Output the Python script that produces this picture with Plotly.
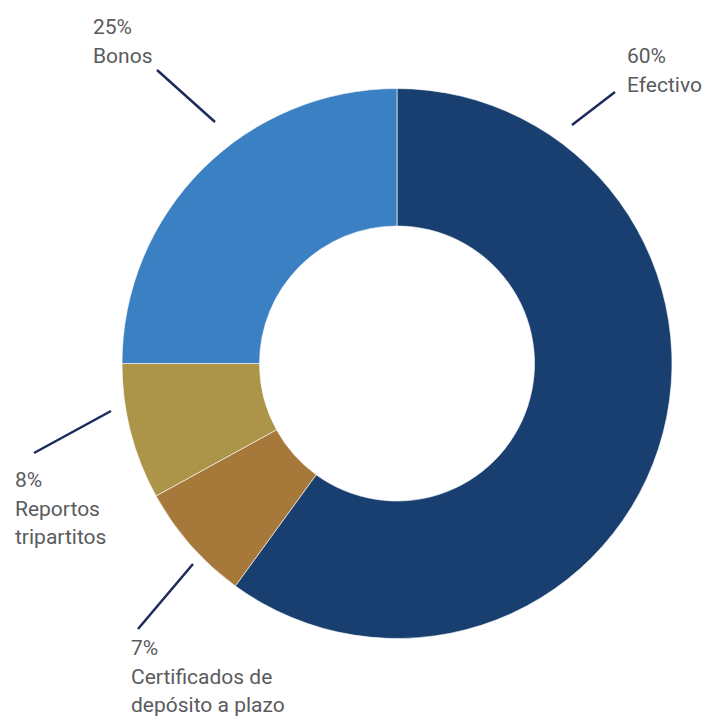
import plotly.graph_objects as go

# Portfolio composition
categories = ["Efectivo", "Certificados de depósito a plazo", "Reportos tripartitos", "Bonos"]
shares = [60, 7, 8, 25]
colors = ["#183f70", "#a67839", "#ac9449", "#3b80c3"]

# Label lines drawn beside each slice (one text row per entry)
label_rows = {
    "Efectivo": ["60%", "Efectivo"],
    "Certificados de depósito a plazo": ["7%", "Certificados de", "depósito a plazo"],
    "Reportos tripartitos": ["8%", "Reportos", "tripartitos"],
    "Bonos": ["25%", "Bonos"],
}

W, H = 704, 719


def px(x, y):
    return x / W, 1 - y / H


# label anchor (left x, first-row centre y) and leader line endpoints, in pixels
label_pos = {
    "Efectivo": (625, 56, (615, 92), (572, 125)),
    "Certificados de depósito a plazo": (129, 648, (193, 564), (138, 629)),
    "Reportos tripartitos": (13, 480, (111, 411), (34, 453)),
    "Bonos": (91, 27, (157, 70), (215, 122)),
}
row_gap = 28.5

cx, cy, r = 397, 363.5, 275

fig = go.Figure(
    go.Pie(
        labels=categories,
        values=shares,
        hole=0.5,
        sort=False,
        direction="clockwise",
        rotation=0,
        marker=dict(colors=colors, line=dict(color="rgba(255,255,255,0.6)", width=1)),
        textinfo="none",
        hoverinfo="label+percent",
        domain=dict(x=[(cx - r) / W, (cx + r) / W], y=[1 - (cy + r) / H, 1 - (cy - r) / H]),
    )
)

annotations = []
shapes = []
for cat in categories:
    lx, ly, p0, p1 = label_pos[cat]
    for i, row in enumerate(label_rows[cat]):
        ax_, ay_ = px(lx, ly + i * row_gap)
        annotations.append(
            dict(
                x=ax_, y=ay_, xref="paper", yref="paper",
                text=row, showarrow=False,
                xanchor="left", yanchor="middle",
                font=dict(family="Roboto, Liberation Sans, sans-serif", size=21, color="#5a5b5d"),
            )
        )
    x0, y0 = px(*p0)
    x1, y1 = px(*p1)
    shapes.append(
        dict(type="line", xref="paper", yref="paper", x0=x0, y0=y0, x1=x1, y1=y1,
             line=dict(color="#1c2a5c", width=2.5))
    )

fig.update_layout(
    width=W,
    height=H,
    margin=dict(l=0, r=0, t=0, b=0),
    paper_bgcolor="white",
    plot_bgcolor="white",
    showlegend=False,
    annotations=annotations,
    shapes=shapes,
)

fig.write_html("out.html")
